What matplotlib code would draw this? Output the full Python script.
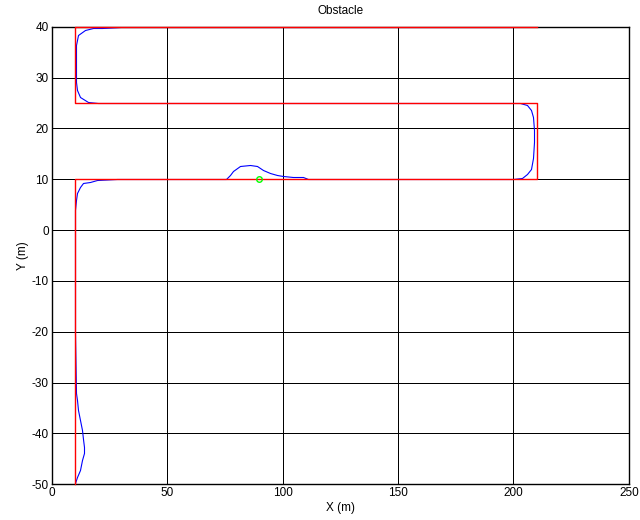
import matplotlib
matplotlib.use("Agg")
import matplotlib.pyplot as plt

matplotlib.rcParams.update({
    "font.family": ["Liberation Sans", "DejaVu Sans"],
    "font.size": 8.5,
    "axes.unicode_minus": False,
})

# reference path (red)
ref_x = [10, 10, 210, 210, 10, 10, 210]
ref_y = [-50, 10, 10, 25, 25, 40, 40]

# driven path (blue)
path_x = [10.0, 10.2, 10.9, 12.3, 13.3, 13.9, 14.1, 13.8, 13.1, 12.3, 11.6, 10.9, 10.5,
          10.3, 10.2, 10.2, 10.6, 11.2, 12.3, 13.8, 16.7, 19.6, 28.2,
          75.5, 77.3, 78.7, 81.6, 85.9, 88.8, 91.7, 94.6, 97.5, 100.3, 104.7, 109.0, 111.0,
          200.0, 203.6, 205.7, 207.4, 208.6, 208.9, 209.0, 208.6, 207.4, 205.7, 202.8, 194.0,
          20.0, 15.9, 12.3, 11.2, 10.6, 10.4, 10.4, 11.6, 14.5, 18.0, 21.7, 30.0, 200.0]
path_y = [-50.0, -49.7, -48.5, -47.2, -45.2, -43.8, -42.6, -41.0, -39.3, -37.3, -35.4, -33.4, -32.0,
          -20.0, 0.0, 3.9, 5.9, 7.2, 8.5, 9.2, 9.5, 9.8, 10.0,
          10.0, 10.8, 11.7, 12.5, 12.8, 12.5, 11.8, 11.2, 10.8, 10.6, 10.5, 10.4, 10.0,
          10.0, 10.3, 11.0, 12.1, 14.1, 17.4, 19.7, 22.3, 23.6, 24.6, 24.9, 25.05,
          25.05, 25.1, 26.2, 27.5, 29.2, 31.0, 36.4, 38.4, 39.35, 39.7, 39.8, 40.0, 40.0]

# obstacle position
obs_x = [90]
obs_y = [10]

fig = plt.figure(figsize=(6.4, 5.2), dpi=100)
ax = fig.add_axes([0.0805, 0.0687, 0.9023, 0.880])

ax.plot(path_x, path_y, color="#0000ff", linewidth=0.8, snap=True, zorder=3)
ax.plot(ref_x, ref_y, color="#ff0000", linewidth=1.0, zorder=4, clip_on=False)
ax.plot(obs_x, obs_y, "o", color="#00ff00", markerfacecolor="none",
        markersize=4, markeredgewidth=1.0, zorder=5)

ax.set_xlim(0, 250)
ax.set_ylim(-50, 40)
ax.set_xticks(range(0, 251, 50))
ax.set_yticks(range(-50, 41, 10))
ax.grid(True, color="k", linewidth=0.72, linestyle="-", antialiased=False)
ax.set_axisbelow(True)
ax.tick_params(direction="in", top=True, right=True, length=4, width=0.7, pad=2)
for s in ax.spines.values():
    s.set_linewidth(1.0)

ax.set_title("Obstacle", fontsize=8.5, pad=9)
ax.set_xlabel("X (m)", labelpad=2)
ax.set_ylabel("Y (m)", labelpad=2)

fig.savefig("out.png", dpi=100)
